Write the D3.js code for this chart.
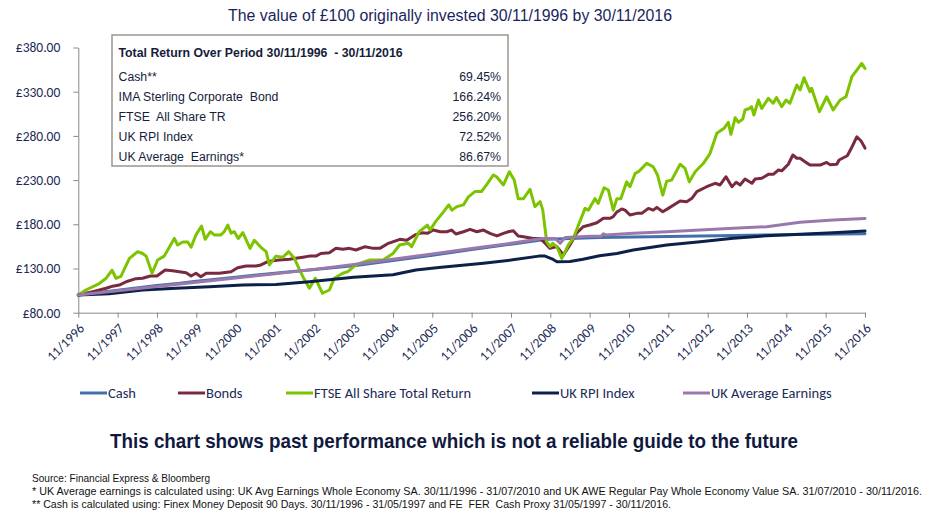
<!DOCTYPE html>
<html><head><meta charset="utf-8">
<script src="https://cdn.jsdelivr.net/npm/d3@7"></script>
<style>body{margin:0;background:#fff}svg{display:block}</style>
</head><body><svg id="c" width="928" height="515"></svg>
<script>
// ---------- DATA ----------
const title = "The value of £100 originally invested 30/11/1996 by 30/11/2016";
const seriesNames = ["Cash", "Bonds", "FTSE All Share Total Return", "UK RPI Index", "UK Average Earnings"];
const seriesColors = ["#4270aa", "#7a2a3e", "#7cc300", "#0c2148", "#9a78ab"];
const tickLabels = ["11/1996","11/1997","11/1998","11/1999","11/2000","11/2001","11/2002","11/2003","11/2004","11/2005","11/2006","11/2007","11/2008","11/2009","11/2010","11/2011","11/2012","11/2013","11/2014","11/2015","11/2016"];
const yTicks = [80, 130, 180, 230, 280, 330, 380];
const tableTitle = "Total Return Over Period 30/11/1996  - 30/11/2016";
const tableRows = ["Cash**", "IMA Sterling Corporate  Bond", "FTSE  All Share TR", "UK RPI Index", "UK Average  Earnings*"];
const tableValues = ["69.45%", "166.24%", "256.20%", "72.52%", "86.67%"];
const disclaimer = "This chart shows past performance which is not a reliable guide to the future";
const footnotes = [
  "Source: Financial Express & Bloomberg",
  "* UK Average earnings is calculated using: UK Avg Earnings Whole Economy SA. 30/11/1996 - 31/07/2010 and UK AWE Regular Pay Whole Economy Value SA. 31/07/2010 - 30/11/2016.",
  "** Cash is calculated using: Finex Money Deposit 90 Days. 30/11/1996 - 31/05/1997 and FE  FER  Cash Proxy 31/05/1997 - 30/11/2016."
];

// [months after 30/11/1996, value of £100]
const cash = [[0,100],[12,105.5],[24,110.8],[31,113.2],[36,115.5],[48,120.2],[61.5,125.2],[72,129],[84.7,133.5],[96,139],[108,145],[120,151.5],[132,157.5],[142.9,163],[150,163.8],[159,165],[180,166.3],[200,167.3],[220,168.4],[240,169.45]];

const bonds = [[0,100],[4.4,103.8],[8.5,107.6],[10.5,110],[12.5,111.3],[14.6,115],[17.6,118.5],[19.6,119],[22,121.5],[24,121.5],[26.5,128.3],[28.8,127.5],[30.8,126.4],[32.9,125.2],[34.4,121.5],[35.9,124.6],[37.4,120.7],[39,124.6],[43,124.6],[46.6,126.4],[48.6,130.9],[51.2,132.8],[54.2,132.8],[55.7,134],[57.8,137.7],[59.3,138.8],[61.3,139.6],[64.4,140.4],[66.4,141.5],[68.5,142.7],[70.5,144],[72.5,144],[74,147],[76.6,147.9],[78.6,152.8],[80.7,151.7],[82.7,152.8],[84.7,150.9],[87.5,154.7],[90,152.8],[92,152.8],[94.6,158.5],[98.1,163],[100.2,162],[102.7,168],[104.8,170.5],[106.5,169.8],[108.3,173.5],[110.4,171.6],[112.4,171.6],[113.9,173.5],[115.2,169],[117.5,171.6],[119.5,174.3],[121.6,171.6],[123.6,173.5],[125.6,169.8],[127.7,166.8],[129.7,169.8],[131.2,171.6],[132.7,172.8],[134.2,166.8],[135.8,166],[138.8,164],[140.9,164],[142.4,158.5],[143.9,152.8],[146,154.7],[148,145.3],[150,156.6],[152,169.8],[154,177.3],[156,179.2],[158.2,181.8],[160.2,186.8],[162.2,186.8],[163.2,188.6],[164.3,194],[165.8,197.3],[166.8,196],[168.3,190.5],[170.4,192.4],[171.9,192.4],[173.9,198],[175.4,196],[176.5,199.2],[178.3,194.2],[180,198],[182,202.6],[183.6,206.4],[185.6,205.6],[187.2,209.4],[188.7,216.9],[191.7,222.5],[194.3,226.4],[195.8,224.5],[197.6,233.8],[199.4,222.5],[200.7,227.5],[201.9,224.5],[203.4,231.2],[205.5,226.4],[206.5,231.2],[208.5,232],[210.5,236.5],[212,236.5],[213.6,241.4],[214.6,240.5],[216.6,247.9],[218,258.4],[219.2,254.7],[220.2,254.7],[221.7,250.8],[223.2,247],[226.3,247],[228.3,250],[229.3,247.5],[231.4,247.9],[232.1,252.7],[234.6,257.6],[235.9,266.6],[237.5,279],[238.8,274.2],[239.8,267.8],[240,266.24]];

const ftse = [[0,100],[2.3,105.7],[6.4,113],[8.5,119],[10.3,128],[11.5,119],[13,121],[15.6,141.5],[18.1,149],[19.6,147],[20.7,144],[22.5,124.6],[24.2,139.6],[26.2,144],[29.3,164],[30.3,156.6],[31.9,160],[33.4,160],[34.4,154],[35.9,168],[37.6,178],[38.7,163],[40.3,171.6],[41.5,168],[43.5,168],[44.5,171.6],[45.6,179],[46.6,170],[47.6,171.6],[48.8,164],[50.2,170.5],[52.4,152.8],[53.7,162],[55.7,154],[57.3,149],[58.3,134],[60.3,144],[62.4,142.7],[64.2,149],[65.9,141.5],[68.5,120.7],[70.5,107.6],[72.3,119],[74.5,102],[76.6,105.7],[78.1,119],[80.7,124.6],[82.2,126.4],[84.7,134],[86,136],[89,139.6],[93,139.6],[96,147],[98,156.6],[100.7,158.5],[101.7,154.7],[104,171.6],[106.5,179],[107.3,173.5],[109,183],[111.4,194],[113,202],[114,196],[115.5,200],[117.5,202],[119,211],[121,217],[123,217],[124.8,226],[126.6,235.8],[127.6,233.8],[129.7,224.5],[131.5,239.5],[133,230],[134.2,209],[135.8,209],[137.8,219.6],[139.3,200],[140.9,205.6],[141.7,196],[142.9,160],[143.9,154.7],[144.7,158.5],[146,154.7],[147.5,141.5],[149.5,156.6],[151,164],[153,183],[154.6,198],[155.6,196],[157.6,209],[158.6,203.7],[160.4,221.4],[161.7,218.8],[163.2,196],[164.3,209],[165.5,209],[167.3,228],[168.3,222.5],[169.9,237.7],[170.9,239.5],[171.9,243.3],[173.4,249],[175.4,245],[176.7,235.8],[178.3,213],[179.5,228.8],[181,230],[183.6,247.9],[185.1,243.3],[186.4,228],[188.2,239.5],[190.7,249],[192.7,260],[194.8,283],[197,288.6],[198.3,295.4],[199.1,281.8],[200.4,300.6],[201.4,295.4],[202.7,299],[203.4,309.3],[204.7,311],[205.4,313],[206.1,303.6],[207.5,320.6],[208.5,311],[210.5,322.5],[212,316.9],[213,323.3],[214.6,313],[215.9,320.6],[217.1,316.9],[219.2,337.6],[220.2,332],[221.4,345.8],[223.2,330],[223.7,333.8],[226.1,307.4],[228.3,324.3],[230.3,309.3],[232.4,320.6],[234.2,324.3],[236,347],[237.5,354.5],[239,362],[240,356.2]];

const rpi = [[0,100],[9.5,101.5],[19.6,105.7],[29.8,107.6],[40,109.4],[50.2,111.3],[60.3,112],[70.5,115],[84,120],[96,123],[103,128.3],[110,131],[123.6,135.9],[132,139.5],[140.5,144],[142.4,144],[144.5,141],[146,137.7],[150,138],[154,140.5],[159,144.5],[164.3,147],[169.3,150.9],[179.5,156.6],[189.7,160.3],[199.8,164.2],[210,167.1],[220.2,168.7],[230.3,170.5],[240,172.52]];

const earnings = [[0,100],[12,104.8],[24,109.6],[36,114.4],[48,119.2],[60,124],[72,129],[84,134.5],[96,140.5],[108,146.5],[120,152.5],[132,158.5],[141.5,164],[145.5,164],[147,158.5],[148.5,165],[156,166.5],[159.5,166.5],[160.2,169.2],[161,167.8],[169.3,169.8],[179.5,171.6],[189.7,173.5],[199.8,175.4],[210,177.3],[220.2,182.3],[230.3,184.9],[240,186.67]];

const seriesData = [cash, bonds, ftse, rpi, earnings];

// ---------- DRAW ----------
const svg = d3.select("#c");
const navy = "#1c2a56";
const sansC = "Carlito, Lato, 'Open Sans', sans-serif";
const narrow = "'Liberation Sans Narrow', 'Arial Narrow', 'Liberation Sans', Arial, sans-serif";

const x = d3.scaleLinear().domain([0, 240]).range([78.3, 865]);
const y = d3.scaleLinear().domain([80, 380]).range([312.7, 47.5]);

svg.append("text").attr("x", 450).attr("y", 21).attr("text-anchor", "middle")
  .attr("font-family", narrow).attr("font-size", 16).attr("fill", "#1a1f5e")
  .attr("textLength", 444).attr("lengthAdjust", "spacingAndGlyphs").text(title);

// Y axis
const yAxis = svg.append("g").attr("transform", `translate(${x(0)},0)`)
  .call(d3.axisLeft(y).tickValues(yTicks).tickFormat(d => "£" + d.toFixed(2)).tickSizeInner(5).tickSizeOuter(0).tickPadding(13));
yAxis.selectAll("path,line").attr("stroke", "#888").attr("stroke-width", 1);
yAxis.selectAll("text").attr("font-family", sansC).attr("font-size", 13.5).attr("fill", navy);

// X axis
const xAxis = svg.append("g").attr("transform", `translate(0,${y(80)})`)
  .call(d3.axisBottom(x).tickValues(tickLabels.map((_, i) => i * 12)).tickFormat((d, i) => tickLabels[i]).tickSizeInner(5).tickSizeOuter(0));
xAxis.selectAll("path,line").attr("stroke", "#888").attr("stroke-width", 1);
xAxis.selectAll("text").attr("font-family", sansC).attr("font-size", 13.5).attr("fill", navy)
  .attr("text-anchor", "end").attr("x", 0).attr("y", 0).attr("dy", "0.35em")
  .attr("transform", "translate(3,13) rotate(-45)");

// Lines
const line = d3.line().x(d => x(d[0])).y(d => y(d[1]));
seriesData.forEach((s, i) => {
  svg.append("path").datum(s).attr("d", line).attr("fill", "none")
    .attr("stroke", seriesColors[i]).attr("stroke-width", 3)
    .attr("stroke-linejoin", "round").attr("stroke-linecap", "round");
});

// Inset table
const tb = svg.append("g");
tb.append("rect").attr("x", 112).attr("y", 35).attr("width", 396).attr("height", 131)
  .attr("fill", "#fff").attr("stroke", "#9a968e").attr("stroke-width", 1.5);
tb.append("text").attr("x", 118.5).attr("y", 57).attr("font-family", "'Liberation Sans', Arial, sans-serif")
  .attr("font-size", 12.3).attr("font-weight", "bold").attr("fill", "#161c3c")
  .style("white-space", "pre").text(tableTitle);
tableRows.forEach((r, i) => {
  tb.append("text").attr("x", 118.5).attr("y", 81 + i * 20).attr("font-family", "'Liberation Sans', Arial, sans-serif")
    .attr("font-size", 12.3).attr("fill", "#161c3c").style("white-space", "pre").text(r);
  tb.append("text").attr("x", 501).attr("y", 81 + i * 20).attr("text-anchor", "end")
    .attr("font-family", "'Liberation Sans', Arial, sans-serif")
    .attr("font-size", 12.3).attr("fill", "#161c3c").text(tableValues[i]);
});

// Legend
const legendX = [80, 178, 286, 532, 683];
seriesNames.forEach((n, i) => {
  const g = svg.append("g").attr("transform", `translate(${legendX[i]},393)`);
  g.append("line").attr("x1", 0).attr("x2", 27).attr("y1", 0).attr("y2", 0)
    .attr("stroke", seriesColors[i]).attr("stroke-width", 3);
  g.append("text").attr("x", 28).attr("y", 0).attr("dy", "0.35em")
    .attr("font-family", sansC).attr("font-size", 14.5).attr("fill", navy).text(n);
});

// Disclaimer
svg.append("text").attr("x", 110).attr("y", 448)
  .attr("font-family", "'Liberation Sans', Arial, sans-serif").attr("font-weight", "bold")
  .attr("font-size", 20.5).attr("fill", "#111a3e")
  .attr("textLength", 688).attr("lengthAdjust", "spacingAndGlyphs").text(disclaimer);

// Footnotes
const fnLen = [178, 890, 639];
footnotes.forEach((f, i) => {
  svg.append("text").attr("x", 32).attr("y", 482 + i * 13)
    .attr("font-family", narrow).attr("font-size", 10.5).attr("fill", "#111")
    .attr("textLength", fnLen[i]).attr("lengthAdjust", "spacingAndGlyphs")
    .style("white-space", "pre").text(f);
});
</script></body></html>
